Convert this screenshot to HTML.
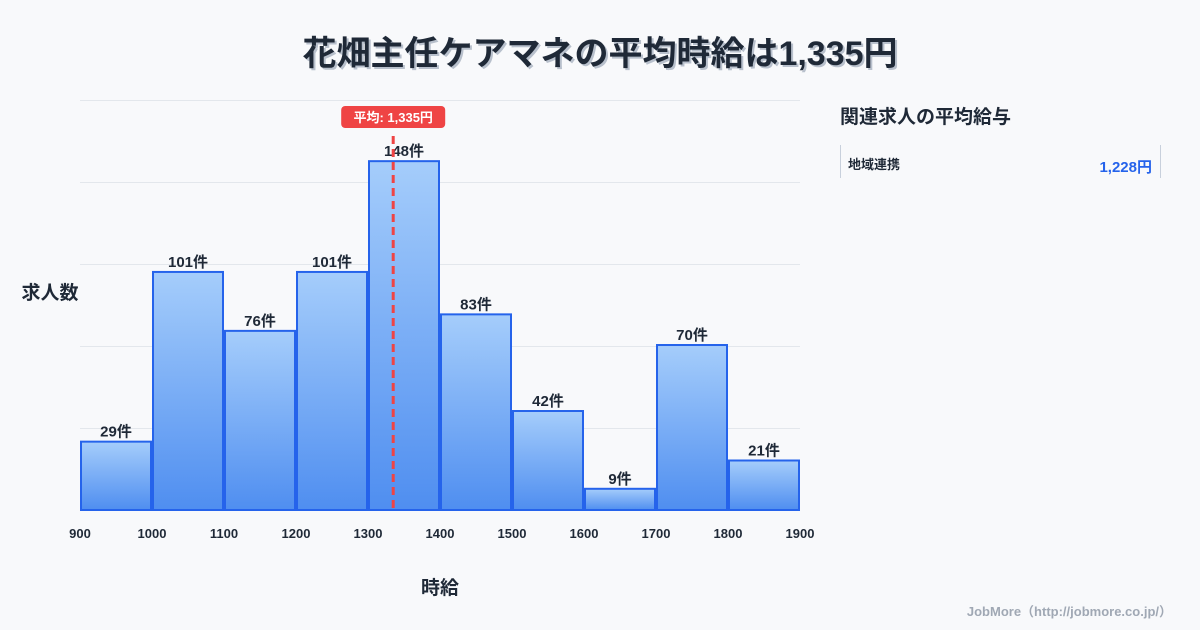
<!DOCTYPE html>
<html><head><meta charset="utf-8"><style>
body{margin:0;width:1200px;height:630px;background:#f8f9fb;overflow:hidden;font-family:"Liberation Sans","Noto Sans CJK JP",sans-serif}
svg{position:absolute;left:0;top:0}
text{font-family:"Liberation Sans","Noto Sans CJK JP",sans-serif}
</style></head><body>
<svg id="c" width="1200" height="630">
<defs><linearGradient id="g" x1="0" y1="0" x2="0" y2="1"><stop offset="0" stop-color="#a5cdfb"/><stop offset="1" stop-color="#4f8ef0"/></linearGradient></defs>
<text x="602" y="67" text-anchor="middle" font-size="34" font-weight="bold" fill="#b8c0cc">花畑主任ケアマネの平均時給は1,335円</text>
<text x="600" y="65" text-anchor="middle" font-size="34" font-weight="bold" fill="#1f2937">花畑主任ケアマネの平均時給は1,335円</text>
<g id="grid"></g><g id="bars"></g><g id="xt"></g>
<text x="50" y="299" text-anchor="middle" font-size="19" font-weight="bold" fill="#1f2937">求人数</text>
<text x="440" y="594" text-anchor="middle" font-size="19" font-weight="bold" fill="#1f2937">時給</text>
<text x="840" y="123" font-size="19" font-weight="bold" fill="#1f2937">関連求人の平均給与</text>
<line x1="840.5" y1="145" x2="840.5" y2="178" stroke="#c8d0dc"/>
<line x1="1160.5" y1="145" x2="1160.5" y2="178" stroke="#c8d0dc"/>
<text x="848" y="169" font-size="13" font-weight="bold" fill="#1f2937">地域連携</text>
<text x="1152" y="172" text-anchor="end" font-size="15" font-weight="bold" fill="#2563eb">1,228円</text>
<text x="1172" y="616" text-anchor="end" font-size="13" font-weight="bold" fill="#a0a8b4">JobMore（http://jobmore.co.jp/）</text>
</svg>
<script>
const binStarts=[900,1000,1100,1200,1300,1400,1500,1600,1700,1800];
const counts=[29,101,76,101,148,83,42,9,70,21];
const xTicks=[900,1000,1100,1200,1300,1400,1500,1600,1700,1800,1900];
const meanValue=1335;
const binWidth=100;
const X=v=>80+(v-900)*0.72;
const Y=v=>510-v*2.357;
const ns="http://www.w3.org/2000/svg";
function mk(t,a,p){const e=document.createElementNS(ns,t);for(const k in a)e.setAttribute(k,a[k]);p.appendChild(e);return e;}
const grid=document.getElementById('grid'),bars=document.getElementById('bars'),xt=document.getElementById('xt');
for(let i=0;i<=5;i++){const y=100+i*82;const l=mk('line',{x1:80,x2:800,y1:y+.5,y2:y+.5,stroke:'#e3e7ec'},grid);

}
binStarts.forEach((b,i)=>{const x0=X(b)+1,x1=X(b+binWidth)-1,y=Y(counts[i]);
const r=mk('rect',{x:x0,y:y,width:x1-x0,height:510-y,fill:'url(#g)',stroke:'#2563eb','stroke-width':2},bars);


const t=mk('text',{x:(x0+x1)/2,y:y-5,'text-anchor':'middle','font-size':15,'font-weight':'bold',fill:'#1f2937'},bars);t.textContent=counts[i]+'件';

});
xTicks.forEach(v=>{const t=mk('text',{x:X(v),y:538,'text-anchor':'middle','font-size':13,'font-weight':'bold',fill:'#1f2937'},xt);t.textContent=v;

});
const mx=X(meanValue);
const ml=mk('line',{x1:mx,x2:mx,y1:136,y2:510,stroke:'#ef4444','stroke-width':3,'stroke-dasharray':'8,5'},xt);


const mr=mk('rect',{x:mx-52,y:106,width:104,height:22,rx:4,fill:'#ef4444'},xt);


const mt=mk('text',{x:mx,y:122,'text-anchor':'middle','font-size':13,'font-weight':'bold',fill:'#fff'},xt);mt.textContent='平均: 1,335円';


</script>
</body></html>
